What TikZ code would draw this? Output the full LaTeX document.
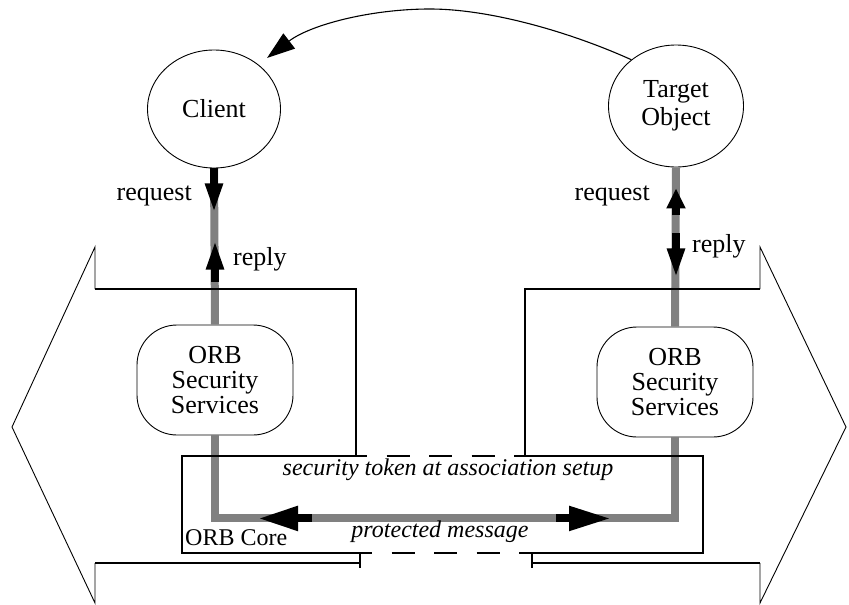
\documentclass[tikz,border=0pt]{standalone}
\usepackage{fontspec}
\setmainfont{Liberation Serif}
\usetikzlibrary{arrows.meta,shapes.geometric,calc}

\begin{document}
\begin{tikzpicture}[x=1pt,y=-1pt,
  party/.style={draw, ellipse, line width=0.9pt, inner sep=0pt, align=center,
    font=\fontsize{26}{28}\selectfont},
  secbox/.style={draw, rounded corners=40pt, line width=0.9pt, align=center,
    minimum width=156pt, minimum height=110pt, font=\fontsize{26}{25}\selectfont},
  lbl/.style={inner sep=0pt, font=\fontsize{26}{28}\selectfont},
  corelbl/.style={inner sep=0pt, font=\fontsize{24}{26}\selectfont},
  wire/.style={line width=8pt, draw=gray},
  flow/.style={line width=8pt, -{Triangle[length=30pt,width=16pt]}},
  frame/.style={line width=1.8pt},
  edge/.style={line width=0.9pt}]
  \useasboundingbox (0,0) rectangle (849,605);

  % Client and target object
  \node[party, minimum width=133pt, minimum height=118pt] (client) at (214,109) {Client};
  \node[party, minimum width=135pt, minimum height=122pt] (target) at (676,106) {Target\\Object};
  \draw[line width=1.1pt, -{Triangle[length=28pt,width=19pt]}] (target.134)
    .. controls (570,32) and (490,9) .. (430,9)
    .. controls (370,9) and (310,25) .. (267,58);

  % ORB security services
  \node[secbox] (secL) at (215,380) {ORB\\Security\\Services};
  \node[secbox] (secR) at (675,382) {ORB\\Security\\Services};

  % Gray message path
  \draw[wire] (client.south) -- (secL.north);
  \draw[wire] (target.south) -- (secR.north);
  \coordinate (bendL) at ($(secL.south)+(0,83)$);
  \coordinate (bendR) at (secR.south |- bendL);
  \draw[wire] (secL.south) -- (bendL) -- (bendR) -- (secR.south);

  % Request / reply arrows
  \draw[flow] (client.south) -- ++(0,45);
  \draw[flow] ($(secL.north)+(0,-43)$) -- ++(0,-42);
  \draw[flow, -{Triangle[length=20pt,width=18pt]}] ($(target.south)+(0,48)$) -- ++(0,-27);
  \draw[flow] ($(target.south)+(0,66)$) -- ++(0,45);
  \draw[flow, -{Triangle[length=40pt,width=23pt]}] ($(bendL)+(97,0)$) -- ++(-54,0);
  \draw[flow, -{Triangle[length=42pt,width=23pt]}] ($(bendR)+(-119,0)$) -- ++(55,0);

  % Left system
  \draw[frame] (356,456) -- (356,289) -- (95,289);
  \draw[edge] (95,289) -- (95,247) -- (12,427) -- (95,603) -- (95,563);
  \draw[frame] (95,563) -- (360,563);
  \draw[frame] (360,552) -- (360,568);

  % Right system
  \draw[frame] (525,456) -- (525,289) -- (760,289);
  \draw[edge] (760,289) -- (760,247) -- (846,427) -- (760,603) -- (760,563);
  \draw[frame] (760,563) -- (532,563);
  \draw[frame] (532,552) -- (532,568);

  % ORB core
  \draw[line width=1.5pt] (356,456) -- (182,456) -- (182,553) -- (360,553);
  \draw[line width=1.5pt] (532,553) -- (703,553) -- (703,456) -- (525,456);
  \draw[frame, dash pattern=on 23pt off 19.5pt, dash phase=12pt] (356,456) -- (525,456);
  \draw[frame, dash pattern=on 23pt off 19.5pt, dash phase=11pt] (360,553) -- (532,553);

  % Labels
  \node[lbl, anchor=base east] (reqL) at (192,200) {request};
  \node[lbl, anchor=base west] (repL) at (233,265) {reply};
  \node[lbl, anchor=base east] (reqR) at (650,200) {request};
  \node[lbl, anchor=base west] (repR) at (692,252) {reply};
  \node[corelbl, anchor=base] (token) at (448,475) {\itshape security token at association setup};
  \node[corelbl, anchor=base] (prot) at (440,537) {\itshape protected message};
  \node[corelbl, anchor=base west] (core) at (185,545) {ORB Core};
\end{tikzpicture}
\end{document}
